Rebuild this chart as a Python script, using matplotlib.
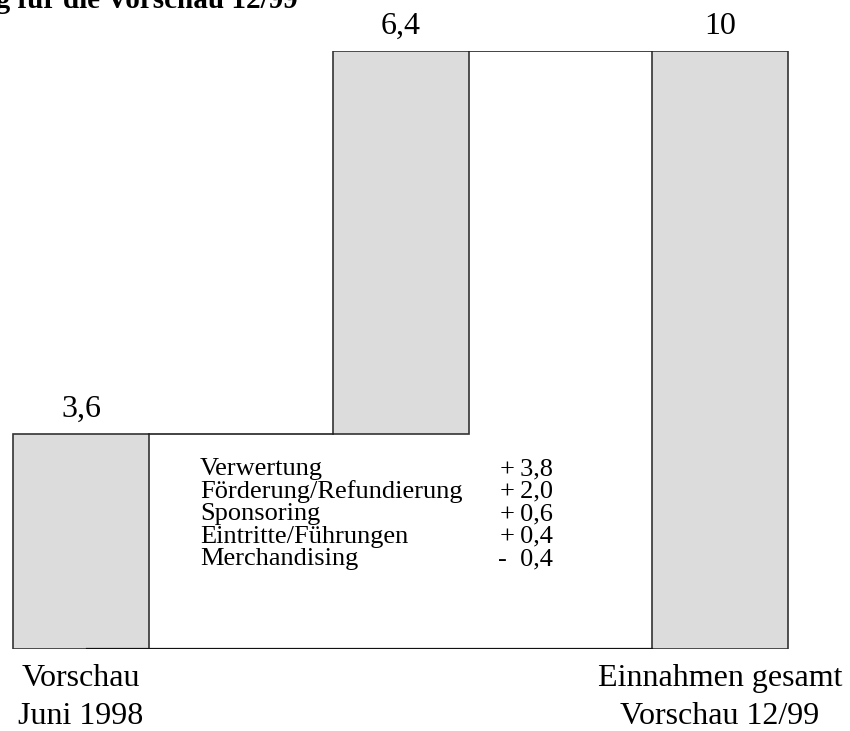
import matplotlib
matplotlib.use("Agg")
import matplotlib.pyplot as plt

plt.rcParams['font.family'] = ['Liberation Serif', 'DejaVu Serif']

# Daten
bar_labels_top = ["Vorschau", "", "Einnahmen gesamt"]
bar_labels_bottom = ["Juni 1998", "", "Vorschau 12/99"]
bar_bottoms = [0.0, 3.6, 0.0]
bar_heights = [3.6, 6.4, 10.0]
value_labels = ["3,6", "6,4", "10"]

item_names = ["Verwertung", "Förderung/Refundierung", "Sponsoring",
              "Eintritte/Führungen", "Merchandising"]
item_values = ["+\u20093,8", "+\u20092,0", "+\u20090,6", "+\u20090,4", "-  0,4"]

title = "Einnahmenentwicklung für die Vorschau 12/99"

W, H = 850, 731
fig = plt.figure(figsize=(W / 100, H / 100), dpi=100)
ax = fig.add_axes([0, (H - 649) / H, 1, (649 - 51) / H])

step = 319.5          # Pixel zwischen den Balkenmitten
ppu = 59.8            # Pixel pro Einheit
width = 136 / step
xs = list(range(len(bar_heights)))

ax.bar(xs, bar_heights, width=width, bottom=bar_bottoms,
       color="#dcdcdc", edgecolor="#333333", linewidth=1.2, zorder=2)

# Verbindungslinien
half = width / 2
ax.plot([xs[0] + half, xs[1] - half], [bar_heights[0]] * 2, color="#222222", lw=1.2, zorder=3)
ax.plot([xs[1] + half, xs[2] - half], [bar_bottoms[1] + bar_heights[1]] * 2, color="#222222", lw=1.2, zorder=3)
ax.plot([xs[0] + 0.02, xs[2] - half], [0, 0], color="#111111", lw=1.6, zorder=3)

for x, b, h, lab in zip(xs, bar_bottoms, bar_heights, value_labels):
    ax.annotate(lab, (x, b + h), xytext=(0, 12.5), textcoords="offset points",
                ha="center", va="baseline", fontsize=23)

for i in xs:
    if bar_labels_top[i]:
        ax.text(xs[i], (649 - 686) / ppu, bar_labels_top[i],
                ha="center", va="baseline", fontsize=23)
        ax.text(xs[i], (649 - 724) / ppu, bar_labels_bottom[i],
                ha="center", va="baseline", fontsize=23)

# Aufstellung der Veränderungen
row_y = 649 - 469
for k, (name, val) in enumerate(zip(item_names, item_values)):
    y = (row_y - k * 22.5) / ppu
    ax.text((200 - 81) / step, y, name, ha="left", va="center", fontsize=19)
    ax.text((553 - 81) / step, y, val, ha="right", va="center", fontsize=19)

ax.set_xlim(-81 / step, (W - 81) / step)
ax.set_ylim(0, 10)
ax.axis("off")

fig.text(298 / W, 1 - 8 / H, title, ha="right", va="baseline",
         fontsize=21, fontweight="bold")

fig.savefig("out.png", dpi=100)
